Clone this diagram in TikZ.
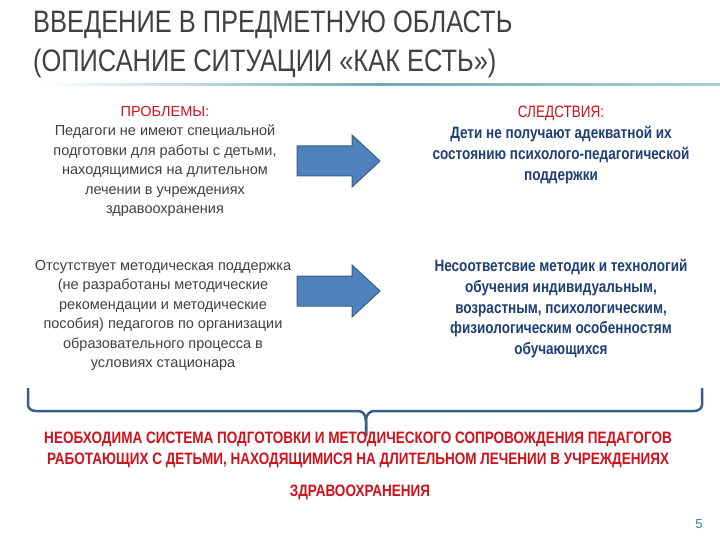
\documentclass[tikz,border=0pt]{standalone}
\usepackage{fontspec}
\setmainfont{Liberation Sans}
\newfontfamily\narrowfont[FakeStretch=0.82]{Liberation Sans}
\definecolor{titlegray}{HTML}{404040}
\definecolor{navy}{HTML}{1F3F74}
\definecolor{redc}{HTML}{D0101A}
\definecolor{arrowblue}{HTML}{4F81BD}
\definecolor{arrowedge}{HTML}{385D8A}
\definecolor{teal}{HTML}{31859C}
\tikzset{
 lefttxt/.style={align=center,font=\fontsize{14.5}{19.5}\selectfont,text=titlegray,inner sep=0},
 righttxt/.style={align=center,font=\narrowfont\bfseries\fontsize{16.5}{20.8}\selectfont,text=navy,inner sep=0},
 bigarrow/.style={draw=arrowedge,fill=arrowblue,line width=1pt,line join=miter},
 brace/.style={draw=arrowedge,line width=2.5pt,line join=round},
 bottomtxt/.style={align=center,font=\narrowfont\bfseries\fontsize{16.5}{21}\selectfont,text=redc,inner sep=0}
}
\begin{document}
\begin{tikzpicture}[x=1pt,y=-1pt]
\useasboundingbox (0,0) rectangle (720,540);
\node[anchor=base west,font=\narrowfont\fontsize{31}{31}\selectfont,text=titlegray,inner sep=0] (t1) at (33,33) {ВВЕДЕНИЕ В ПРЕДМЕТНУЮ ОБЛАСТЬ};
\node[anchor=base west,font=\narrowfont\fontsize{31}{31}\selectfont,text=titlegray,inner sep=0] (t2) at (33,72) {(ОПИСАНИЕ СИТУАЦИИ «КАК ЕСТЬ»)};
\shade[left color=white,right color=teal!70] (40,84) rectangle (380,86);
\shade[left color=teal!70,right color=teal!40] (380,84) rectangle (720,86);
\node[lefttxt,anchor=north] (p1) at (165,106) {\textcolor{redc}{ПРОБЛЕМЫ:}\\Педагоги не имеют специальной\\подготовки  для работы с детьми,\\находящимися на длительном\\лечении в учреждениях\\здравоохранения};
\node[righttxt,anchor=north] (c1) at (561,106) {\textcolor{redc}{\mdseries СЛЕДСТВИЯ:}\\Дети не получают адекватной их\\состоянию психолого-педагогической\\поддержки};
\node[lefttxt,anchor=north] (p2) at (163,260) {Отсутствует методическая поддержка\\(не разработаны методические\\рекомендации и методические\\пособия) педагогов по организации\\образовательного процесса в\\условиях стационара};
\node[righttxt,anchor=north] (c2) at (561,259) {Несоответсвие  методик и технологий\\обучения индивидуальным,\\возрастным, психологическим,\\физиологическим особенностям\\обучающихся};
\foreach \yy/\nm in {161/a1,291/a2}{
 \draw[bigarrow] (297,\yy-15) -- (352,\yy-15) -- (352,\yy-26) -- (380,\yy) -- (352,\yy+26) -- (352,\yy+15) -- (297,\yy+15) -- cycle;
}
\coordinate (bl) at (28,388);
\coordinate (br) at (702,388);
\coordinate (bm) at (366,436);
\draw[brace] (bl) -- (28,405) to[out=-90,in=180] (36,411) -- (358,411) to[out=0,in=90] (bm|-bm) ;
\draw[brace] (br) -- (702,405) to[out=-90,in=0] (694,411) -- (374,411) to[out=180,in=90] (366,420) -- (bm);
\node[bottomtxt,anchor=north] (b1) at (358,432) {НЕОБХОДИМА СИСТЕМА ПОДГОТОВКИ И МЕТОДИЧЕСКОГО СОПРОВОЖДЕНИЯ ПЕДАГОГОВ\\РАБОТАЮЩИХ С ДЕТЬМИ, НАХОДЯЩИМИСЯ НА ДЛИТЕЛЬНОМ ЛЕЧЕНИИ В УЧРЕЖДЕНИЯХ};
\node[bottomtxt,anchor=north] (b2) at (360,485) {ЗДРАВООХРАНЕНИЯ};
\node[font=\fontsize{13}{13}\selectfont,text=teal,anchor=base] (pn) at (699,528) {5};
\end{tikzpicture}
\end{document}
